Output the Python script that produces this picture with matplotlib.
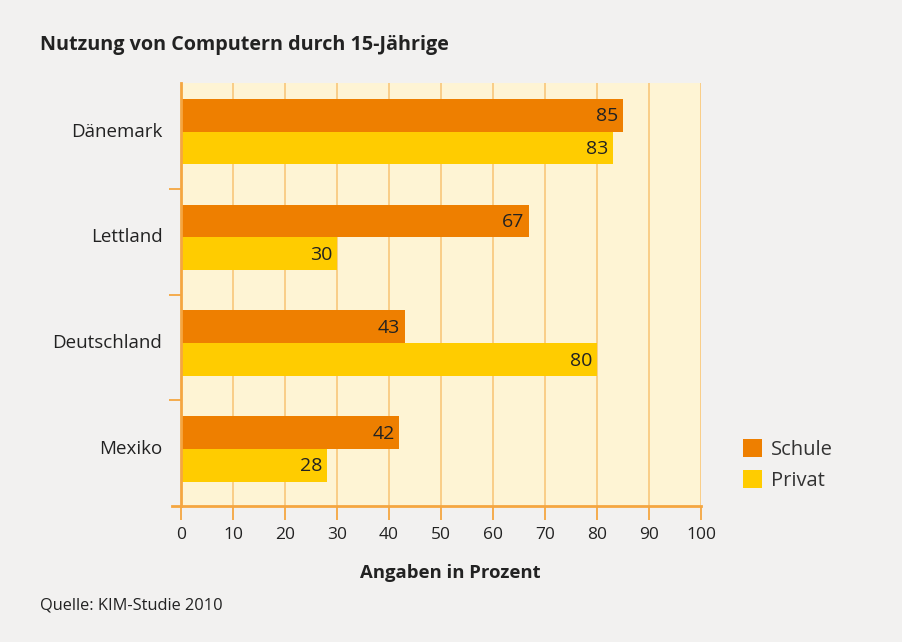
import matplotlib.pyplot as plt
import numpy as np
from matplotlib.patches import Patch

plt.rcParams['font.family'] = ['Open Sans', 'DejaVu Sans']

laender = ['Dänemark', 'Lettland', 'Deutschland', 'Mexiko']
schule = [85, 67, 43, 42]
privat = [83, 30, 80, 28]
xticks = [0, 10, 20, 30, 40, 50, 60, 70, 80, 90, 100]

c_schule = '#EE7F00'
c_privat = '#FFCC00'
c_linie = '#F5A640'
c_text = '#222222'

fig = plt.figure(figsize=(9.02, 6.42), dpi=100, facecolor='#F2F1F0')
ax = fig.add_axes([181/902, 1-506/642, 520/902, 423/642])
ax.set_facecolor('#FEF4D4')

n = len(laender)
mitte = np.arange(n)[::-1] + 0.54
h = 0.31
b1 = ax.barh(mitte + h/2, schule, height=h, color=c_schule, zorder=3)
b2 = ax.barh(mitte - h/2, privat, height=h, color=c_privat, zorder=3)

for bars, werte in [(b1, schule), (b2, privat)]:
    for b, w in zip(bars, werte):
        ax.text(w - 0.9, b.get_y() + b.get_height()/2 - 0.01, str(w), ha='right', va='center',
                fontsize=14, color=c_text, zorder=4)

ax.set_xlim(0, 100)
ax.set_ylim(0, n)
ax.set_xticks(xticks)
ax.set_xticklabels([str(t) for t in xticks], fontsize=12.5, color=c_text)
ax.set_yticks([1, 2, 3])
ax.set_yticklabels([])
ax.xaxis.grid(True, color='#F8C77A', linewidth=1.2, zorder=1)
ax.tick_params(axis='x', length=10, width=1.3, color=c_linie, pad=5)
ax.tick_params(axis='y', length=9, width=1.3, color=c_linie)

for s in ['top', 'right']:
    ax.spines[s].set_visible(False)
for s in ['left', 'bottom']:
    ax.spines[s].set_color(c_linie)
    ax.spines[s].set_linewidth(2)
    ax.spines[s].set_zorder(5)

# Laenderbeschriftung
for name, m in zip(laender, mitte):
    ax.text(-3.6, m, name, ha='right', va='center', fontsize=13.5, color=c_text)
# Tick bei 0 nach links
ax.plot([-1.8, 0], [0, 0], color=c_linie, lw=2, clip_on=False, zorder=5)

fig.text(40/902, 1-45/642, 'Nutzung von Computern durch 15-Jährige', fontsize=14.2,
         fontweight='bold', color=c_text, va='center', ha='left')
fig.text(450/902, 1-573/642, 'Angaben in Prozent', fontsize=13.3, fontweight='bold',
         color=c_text, va='center', ha='center')
fig.text(40/902, 1-605/642, 'Quelle: KIM-Studie 2010', fontsize=11.8, color=c_text,
         va='center', ha='left')

handles = [Patch(facecolor=c_schule, label='Schule'), Patch(facecolor=c_privat, label='Privat')]
fig.legend(handles=handles, loc='center left', bbox_to_anchor=(725/902, 1-465/642),
           frameon=False, fontsize=14.5, handlelength=0.95, handleheight=1.0,
           handletextpad=0.45, labelspacing=0.5, labelcolor='#333333')

fig.savefig('out.png', dpi=100, facecolor=fig.get_facecolor())
